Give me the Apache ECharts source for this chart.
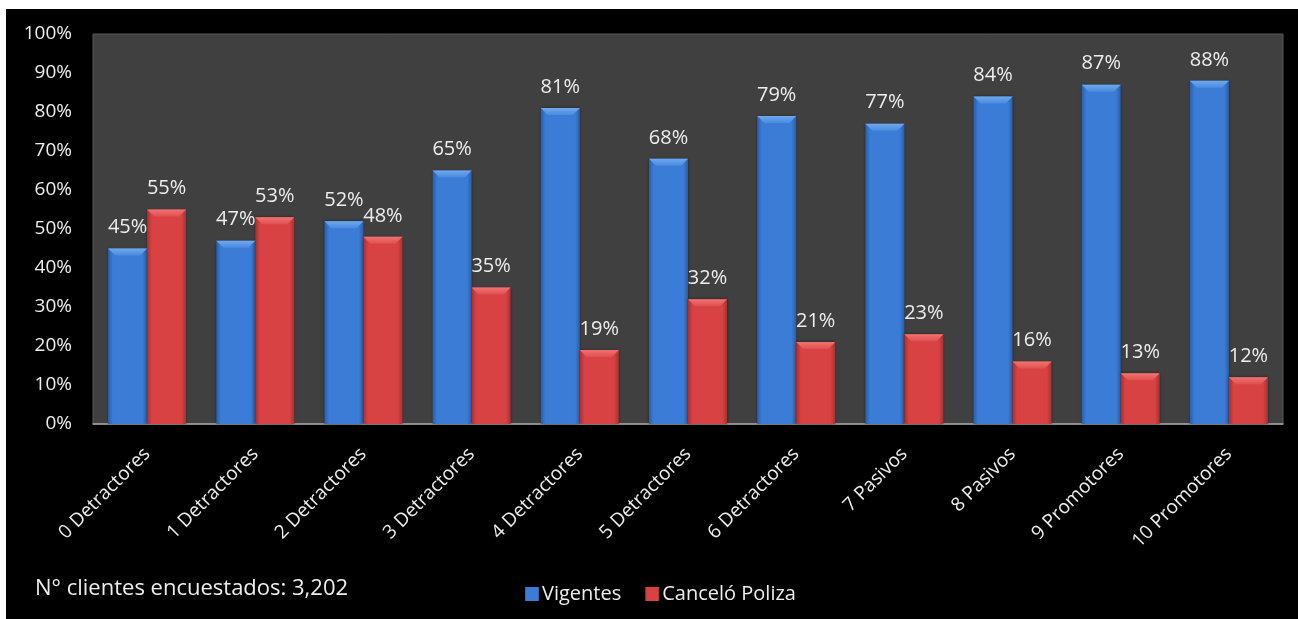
<!DOCTYPE html>
<html>
<head>
<meta charset="utf-8">
<script src="https://cdn.jsdelivr.net/npm/echarts@6/dist/echarts.min.js"></script>
<style>
html,body{margin:0;padding:0;background:#fff;width:1298px;height:619px;overflow:hidden;}
#c{position:absolute;left:6px;top:9px;width:1292px;height:610px;background:#000;}
</style>
</head>
<body>
<div id="c"></div>
<script>
const categories = ['0 Detractores','1 Detractores','2 Detractores','3 Detractores','4 Detractores','5 Detractores','6 Detractores','7 Pasivos','8 Pasivos','9 Promotores','10 Promotores'];
const vigentes = [45,47,52,65,81,68,79,77,84,87,88];
const cancelo = [55,53,48,35,19,32,21,23,16,13,12];
const seriesNames = ['Vigentes','Canceló Poliza'];
const yTicks = [0,10,20,30,40,50,60,70,80,90,100];
const footnote = 'N° clientes encuestados: 3,202';

const FONT = '"Open Sans", sans-serif';
const BAR_W = 39;
const TXT = '#ededed';

function grad(edge, mid){
  return new echarts.graphic.LinearGradient(0,0,1,0,[
    {offset:0,color:edge},{offset:0.12,color:mid},{offset:0.88,color:mid},{offset:1,color:edge}]);
}
const blueFill = grad('#2a5ea8','#3b7dd6');
const redFill = grad('#a83030','#d84242');

const bevelData = [];
vigentes.forEach((v,i)=>bevelData.push([i,v,0]));
cancelo.forEach((v,i)=>bevelData.push([i,v,1]));

const chart = echarts.init(document.getElementById('c'), null, {renderer:'canvas'});
chart.setOption({
  backgroundColor:'#000',
  animation:false,
  grid:{left:87,top:25,right:15,bottom:195,show:true,backgroundColor:'#404040',borderColor:'#595959',borderWidth:1},
  xAxis:{type:'category',data:categories,
    axisLine:{show:true,lineStyle:{color:'#a6a6a6',width:1.5}},
    axisTick:{show:false},
    axisLabel:{rotate:45,color:TXT,fontSize:19,fontFamily:FONT,margin:27,interval:0}},
  yAxis:{type:'value',min:yTicks[0],max:yTicks[yTicks.length-1],interval:10,
    axisLine:{show:false},axisTick:{show:false},splitLine:{show:false},
    axisLabel:{color:TXT,fontSize:19,fontFamily:FONT,margin:21,formatter:v=>v+'%'}},
  legend:{left:514,top:570,itemWidth:14,itemHeight:14,itemGap:24,icon:'rect',
    data:seriesNames,
    textStyle:{color:TXT,fontSize:20,fontFamily:FONT,padding:[0,0,0,-2]}},
  graphic:[{type:'text',left:29,top:569,style:{text:footnote,fill:TXT,font:'22px '+FONT}}],
  series:[
    {name:seriesNames[0],type:'bar',data:vigentes,barWidth:BAR_W,barGap:'0%',
     itemStyle:{color:blueFill,shadowColor:'rgba(0,0,0,0.5)',shadowBlur:3},
     label:{show:true,position:'top',distance:11,color:TXT,fontSize:20,fontFamily:FONT,formatter:p=>p.value+'%'}},
    {name:seriesNames[1],type:'bar',data:cancelo,barWidth:BAR_W,barGap:'0%',
     itemStyle:{color:redFill,shadowColor:'rgba(0,0,0,0.5)',shadowBlur:3},
     label:{show:true,position:'top',distance:11,color:TXT,fontSize:20,fontFamily:FONT,formatter:p=>p.value+'%'}},
    {type:'custom',silent:true,z:5,data:bevelData,
     renderItem:function(params,api){
       const idx=api.value(0), val=api.value(1), s=api.value(2);
       const top=api.coord([idx,val]);
       const cx=top[0]+(s===0?-BAR_W/2:BAR_W/2);
       const x0=cx-BAR_W/2, x1=cx+BAR_W/2, y=top[1], b=7;
       const light = s===0?'#6fa9ee':'#f07272';
       const dark = s===0?'#4a8be0':'#e05050';
       return {type:'polygon',shape:{points:[[x0,y],[x1,y],[x1-b,y+b],[x0+b,y+b]]},
         style:{fill:new echarts.graphic.LinearGradient(0,0,0,1,[{offset:0,color:light},{offset:1,color:dark}])}};
     }}
  ]
});
</script>
</body>
</html>
